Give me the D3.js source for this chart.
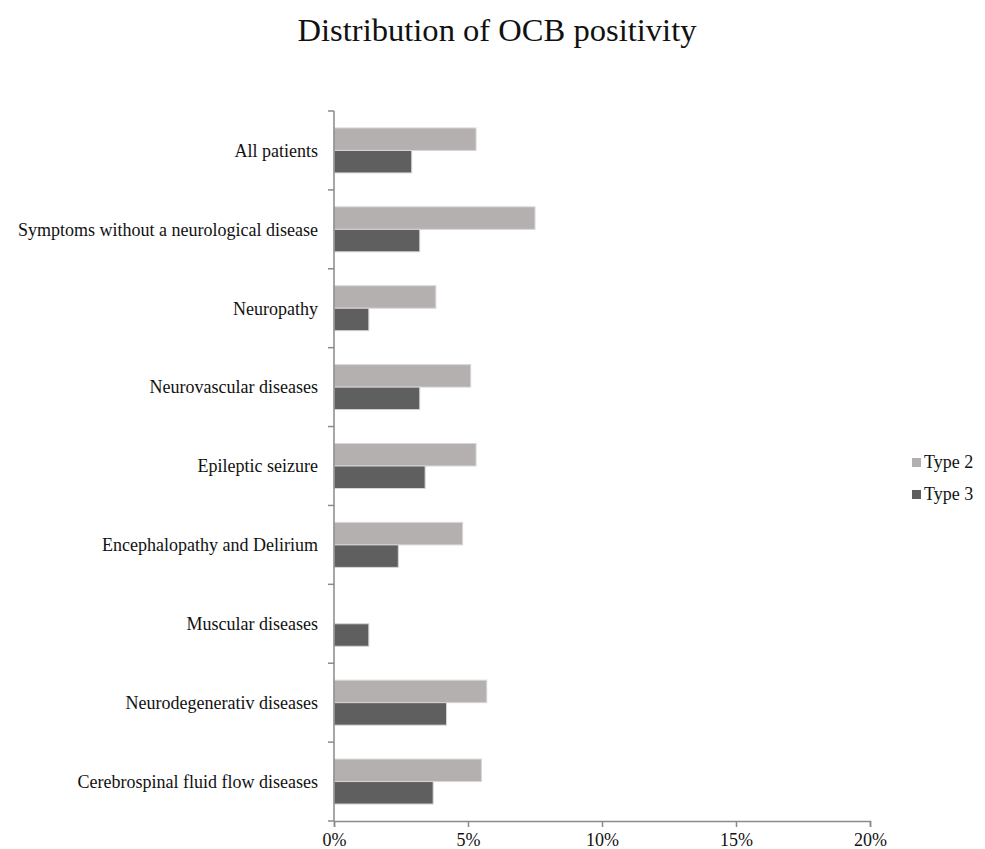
<!DOCTYPE html>
<html>
<head>
<meta charset="utf-8">
<script src="https://cdn.jsdelivr.net/npm/d3@7"></script>
<style>
  body { margin: 0; background: #fff; }
  svg text { font-family: "Liberation Serif", "Times New Roman", serif; fill: #111; }
</style>
</head>
<body>
<svg id="chart" width="985" height="849"></svg>
<script>
// categories top to bottom
var categories = ["All patients", "Symptoms without a neurological disease", "Neuropathy",
  "Neurovascular diseases", "Epileptic seizure", "Encephalopathy and Delirium",
  "Muscular diseases", "Neurodegenerativ diseases", "Cerebrospinal fluid flow diseases"];
var series = ["Type 2", "Type 3"];
var type2 = [5.3, 7.5, 3.8, 5.1, 5.3, 4.8, 0, 5.7, 5.5];
var type3 = [2.9, 3.2, 1.3, 3.2, 3.4, 2.4, 1.3, 4.2, 3.7];
var xTicks = [0, 5, 10, 15, 20];
var colours = ["#b5b0b0", "#5f5f5f"];

var margin = {top: 111, left: 334};
var plotH = 710, plotW = 536;

var svg = d3.select("#chart");

svg.append("text")
  .attr("x", 497).attr("y", 41)
  .attr("text-anchor", "middle")
  .attr("textLength", 399)
  .attr("lengthAdjust", "spacingAndGlyphs")
  .style("font-size", "32px")
  .text("Distribution of OCB positivity");

var g = svg.append("g")
  .attr("transform", "translate(" + margin.left + "," + margin.top + ")");

var x = d3.scaleLinear().domain([0, 20]).range([0, plotW]);
var y = d3.scaleBand().domain(categories).range([0, plotH]).paddingInner(0.43).paddingOuter(0.215);
var ySub = d3.scaleBand().domain(series).range([0, y.bandwidth()]);

var rows = categories.map(function(c, i) { return {cat: c, vals: [type2[i], type3[i]]}; });

// bars
var grp = g.selectAll(".row").data(rows).enter().append("g")
  .attr("transform", function(d) { return "translate(0," + y(d.cat) + ")"; });
grp.selectAll("rect")
  .data(function(d) {
    return d.vals.map(function(v, j) { return {v: v, s: series[j]}; })
      .filter(function(e) { return e.v > 0; });
  })
  .enter().append("rect")
  .attr("x", 0)
  .attr("y", function(d) { return ySub(d.s); })
  .attr("width", function(d) { return x(d.v); })
  .attr("height", ySub.bandwidth())
  .attr("fill", function(d) { return colours[series.indexOf(d.s)]; })
  .attr("stroke", "#d8d6d6")
  .attr("stroke-width", 1);

// x axis
var xAxis = g.append("g")
  .attr("transform", "translate(0," + plotH + ")")
  .call(d3.axisBottom(x).tickValues(xTicks).tickSize(6).tickPadding(6).tickFormat(function(d) { return d + "%"; }));
xAxis.selectAll("text").style("font-size", "18px").attr("fill", "#111")
  .style("font-family", "'Liberation Serif', serif");
xAxis.select(".domain").attr("stroke", "#8a8a8a").attr("stroke-width", 1.5);
xAxis.selectAll(".tick line").attr("stroke", "#8a8a8a").attr("stroke-width", 1.5);

// y axis (ticks at category boundaries)
var bounds = d3.range(categories.length + 1).map(function(i) { return i * y.step(); });
g.append("line").attr("x1", 0).attr("x2", 0).attr("y1", 0).attr("y2", plotH)
  .attr("stroke", "#8a8a8a").attr("stroke-width", 1.5);
g.selectAll(".ytick").data(bounds).enter().append("line")
  .attr("x1", -6).attr("x2", 0)
  .attr("y1", function(d) { return d; }).attr("y2", function(d) { return d; })
  .attr("stroke", "#8a8a8a").attr("stroke-width", 1.5);

// category labels
g.selectAll(".ylabel").data(categories).enter().append("text")
  .attr("x", -16)
  .attr("y", function(d) { return y(d) + y.bandwidth() / 2; })
  .attr("text-anchor", "end")
  .attr("dy", "0.35em")
  .style("font-size", "18px")
  .text(function(d) { return d; });

// legend
var leg = svg.append("g").attr("transform", "translate(912,458)");
series.forEach(function(s, i) {
  leg.append("rect").attr("x", 0).attr("y", i * 32).attr("width", 9).attr("height", 9)
    .attr("fill", colours[i]);
  leg.append("text").attr("x", 12).attr("y", i * 32 + 10)
    .style("font-size", "18px").text(s);
});
</script>
</body>
</html>
